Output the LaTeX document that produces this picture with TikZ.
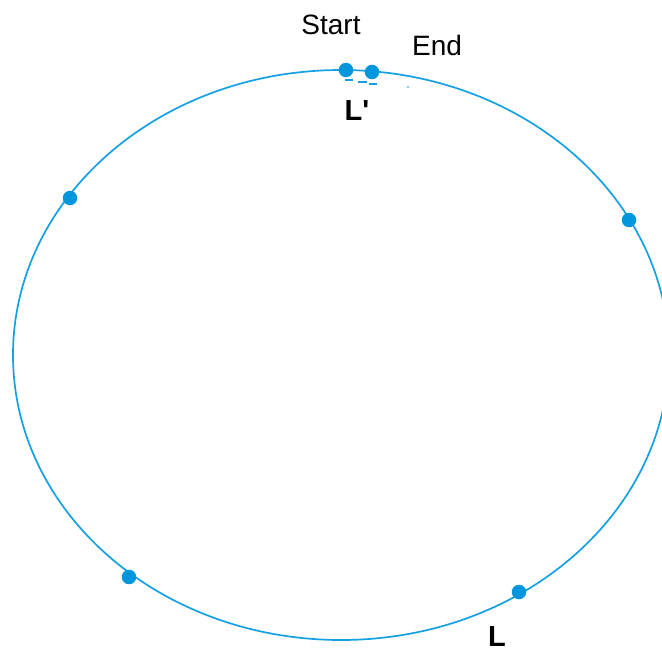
\documentclass[tikz,border=0pt]{standalone}
\usepackage{fontspec}
\setmainfont{Liberation Sans}
\newfontfamily\rawfont{Liberation Sans}[Ligatures=ResetAll]
\definecolor{ringblue}{RGB}{22,160,228}
\definecolor{dotblue}{RGB}{0,150,222}
\tikzset{
  dotnode/.style={circle,fill=dotblue,inner sep=0pt,minimum size=14.5pt},
  lbl/.style={font=\fontsize{28}{30}\selectfont,inner sep=0pt},
  blbl/.style={font=\rawfont\fontsize{29}{30}\selectfont\bfseries,inner sep=0pt},
  ring/.style={draw=ringblue,line width=1.7pt},
  tick/.style={draw=ringblue,line width=1.3pt}
}
\begin{document}
\begin{tikzpicture}[x=1pt,y=-1pt]
\useasboundingbox (0,0) rectangle (662,654);
\begin{scope}
\clip (0,0) rectangle (662,654);
\draw[ring] (341,355) ellipse [x radius=328, y radius=285];
\end{scope}
\node[dotnode] (start) at (346,70) {};
\node[dotnode] (end) at (372,72) {};
\node[dotnode] (p1) at (70,198) {};
\node[dotnode] (p2) at (629,220) {};
\node[dotnode] (p3) at (129,577) {};
\node[dotnode] (p4) at (519,592) {};
\draw[tick] (345,80) -- (353,80);
\draw[tick] (358,82) -- (367,82);
\draw[tick] (369,84) -- (377,84);
\fill[ringblue] (408,87) circle (0.8pt);
\node[lbl] (tstart) at (331,25) {Start};
\node[lbl] (tend) at (437,45) {End};
\node[blbl] (tlp) at (357,111) {L'};
\node[blbl] (tl) at (497,637) {L};
\end{tikzpicture}
\end{document}
